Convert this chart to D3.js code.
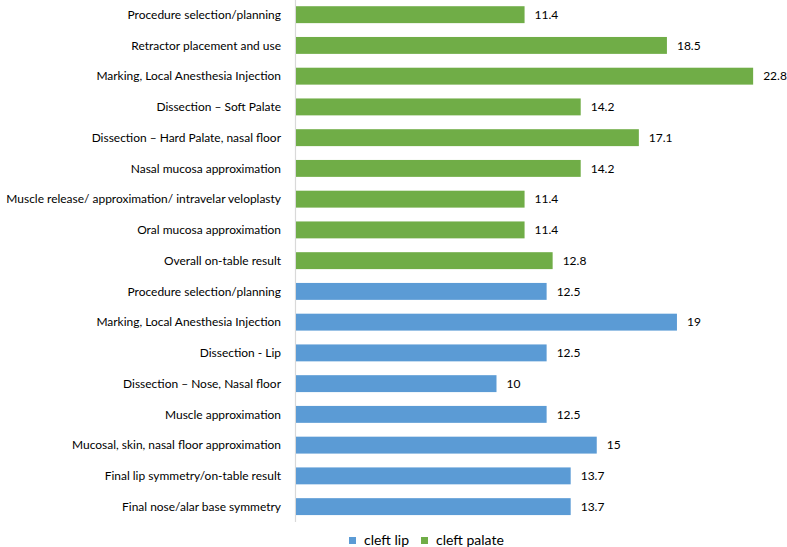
<!DOCTYPE html>
<html><head><meta charset="utf-8">
<script src="https://cdn.jsdelivr.net/npm/d3@7"></script>
<style>body{margin:0;background:#fff}svg{display:block}text{font-family:Lato,"Open Sans",sans-serif}</style>
</head><body>
<svg id="c" width="787" height="547"></svg>
<script>
const categories = [
  "Procedure selection/planning",
  "Retractor placement and use",
  "Marking, Local Anesthesia Injection",
  "Dissection – Soft Palate",
  "Dissection – Hard Palate, nasal floor",
  "Nasal mucosa approximation",
  "Muscle release/ approximation/ intravelar veloplasty",
  "Oral mucosa approximation",
  "Overall on-table result",
  "Procedure selection/planning",
  "Marking, Local Anesthesia Injection",
  "Dissection - Lip",
  "Dissection – Nose, Nasal floor",
  "Muscle approximation",
  "Mucosal, skin, nasal floor approximation",
  "Final lip symmetry/on-table result",
  "Final nose/alar base symmetry"
];
const values = [11.4, 18.5, 22.8, 14.2, 17.1, 14.2, 11.4, 11.4, 12.8,
                12.5, 19, 12.5, 10, 12.5, 15, 13.7, 13.7];
const groups = ["cleft palate","cleft palate","cleft palate","cleft palate","cleft palate","cleft palate","cleft palate","cleft palate","cleft palate",
                "cleft lip","cleft lip","cleft lip","cleft lip","cleft lip","cleft lip","cleft lip","cleft lip"];
const seriesNames = ["cleft lip", "cleft palate"];
const seriesColors = ["#5B9BD5", "#70AD47"];

const svg = d3.select("#c");
const x0 = 296;
const x = d3.scaleLinear().domain([0, 22.8]).range([x0, x0 + 22.8 * 20.05]);
const idx = d3.range(categories.length);
const y = d3.scaleBand().domain(idx).range([-0.7, 522]).paddingInner(0.45).paddingOuter(0.225);
const color = d3.scaleOrdinal().domain(seriesNames).range(seriesColors);

svg.append("line").attr("x1", 295.5).attr("x2", 295.5).attr("y1", 0).attr("y2", 522)
  .attr("stroke", "#d9d9d9").attr("stroke-width", 1.2);

svg.append("g").selectAll("rect").data(idx).join("rect")
  .attr("x", x(0)).attr("y", i => y(i)).attr("height", y.bandwidth())
  .attr("width", i => x(values[i]) - x(0)).attr("fill", i => color(groups[i]));

const labs = svg.append("g").selectAll("text").data(idx).join("text")
  .attr("x", 281).attr("y", i => y(i) + y.bandwidth() / 2).attr("dy", "0.35em")
  .attr("text-anchor", "end").attr("font-size", 13).attr("fill", "#000")
  .text(i => categories[i]);
// fit longest label into the space the reference uses (x 5 → 281)
let maxW = 0;
labs.each(function(){ maxW = Math.max(maxW, this.getComputedTextLength()); });
const fs = Math.min(13, 13 * 275 / maxW);
labs.attr("font-size", fs);

svg.append("g").selectAll("text").data(idx).join("text")
  .attr("x", i => x(values[i]) + 10).attr("y", i => y(i) + y.bandwidth() / 2).attr("dy", "0.35em")
  .attr("font-size", 12).attr("fill", "#000")
  .text(i => values[i]);

const leg = svg.append("g");
const legX = [349, 421];
seriesNames.forEach((s, k) => {
  leg.append("rect").attr("x", legX[k]).attr("y", 537).attr("width", 7).attr("height", 7).attr("fill", color(s));
  leg.append("text").attr("x", legX[k] + 15).attr("y", 540.5).attr("dy", "0.35em")
    .attr("font-size", 14).attr("fill", "#000").text(s);
});
</script>
</body></html>
